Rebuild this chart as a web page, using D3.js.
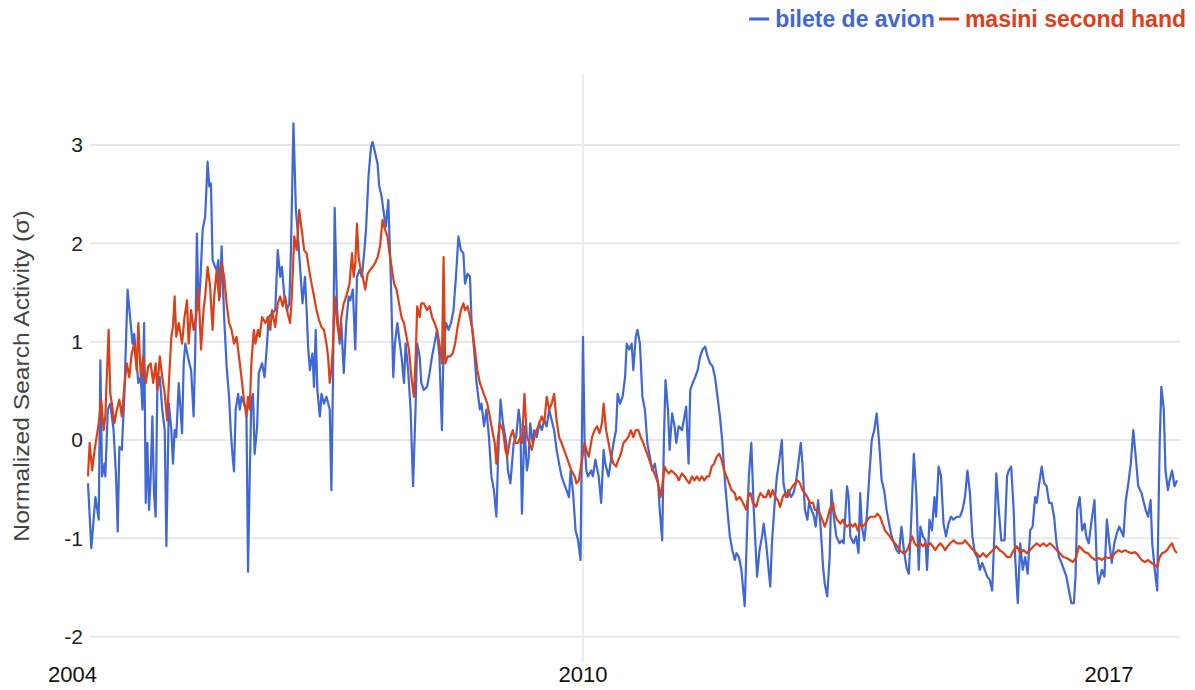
<!DOCTYPE html>
<html><head><meta charset="utf-8">
<script src="https://cdn.jsdelivr.net/npm/d3@7"></script>
<style>
body{margin:0;background:#fff;}
svg{display:block;font-family:Arial,"Liberation Sans",sans-serif;}
</style>
</head><body>
<svg id="c" width="1195" height="690"></svg>
<script>
const seriesNames = ["bilete de avion", "masini second hand"];
const seriesColors = ["#3f67d6", "#dc4019"];
const yTicks = [-2, -1, 0, 1, 2, 3];
const xTickLabels = ["2004", "2010", "2017"];
const xTickYears = [2004, 2010, 2017];
const yTitle = "Normalized Search Activity (σ)";

// [decimal year, normalized value]
const bileteDeAvion = [
[2004.00,-0.44],[2004.04,-1.10],[2004.09,-0.58],[2004.13,-0.81],[2004.15,0.81],[2004.17,-0.37],[2004.20,-0.24],[2004.21,-0.37],[2004.24,0.31],[2004.27,0.37],[2004.31,0.10],[2004.34,-0.37],[2004.36,-0.93],[2004.38,-0.07],[2004.41,-0.10],[2004.44,0.44],[2004.48,1.53],[2004.51,1.25],[2004.54,0.98],[2004.56,1.08],[2004.59,0.78],[2004.61,0.58],[2004.64,0.64],[2004.66,0.31],[2004.68,1.19],[2004.70,-0.64],[2004.72,-0.03],[2004.74,-0.71],[2004.76,-0.37],[2004.78,0.24],[2004.80,-0.54],[2004.82,-0.78],[2004.84,0.51],[2004.87,0.64],[2004.90,0.31],[2004.93,0.10],[2004.95,-1.08],[2004.98,0.37],
[2005.01,0.10],[2005.03,-0.24],[2005.05,0.10],[2005.07,0.03],[2005.10,0.58],[2005.14,0.07],[2005.16,0.78],[2005.18,0.98],[2005.22,0.81],[2005.25,0.71],[2005.28,0.24],[2005.30,0.92],[2005.32,2.10],[2005.34,1.32],[2005.36,1.59],[2005.39,2.14],[2005.42,2.27],[2005.45,2.83],[2005.47,2.58],[2005.49,2.61],[2005.51,1.83],[2005.54,1.76],[2005.56,1.73],[2005.58,1.83],[2005.60,1.46],[2005.62,1.97],[2005.65,1.25],[2005.68,0.75],[2005.71,0.44],[2005.73,0.10],[2005.75,-0.14],[2005.77,-0.32],[2005.79,0.31],[2005.82,0.47],[2005.84,0.31],[2005.86,0.44],[2005.89,0.37],[2005.92,0.31],[2005.94,-1.34],[2005.96,-0.37],[2005.98,0.41],
[2006.00,0.47],[2006.02,-0.14],[2006.05,0.14],[2006.07,0.68],[2006.11,0.78],[2006.14,0.64],[2006.17,0.98],[2006.19,1.25],[2006.23,1.29],[2006.27,1.32],[2006.30,1.93],[2006.33,1.66],[2006.35,1.76],[2006.38,1.46],[2006.41,1.32],[2006.44,1.39],[2006.46,1.93],[2006.49,3.22],[2006.52,2.34],[2006.54,2.14],[2006.57,1.76],[2006.60,1.39],[2006.63,1.66],[2006.65,1.32],[2006.67,0.92],[2006.69,0.71],[2006.72,0.88],[2006.74,0.54],[2006.76,1.12],[2006.78,0.51],[2006.81,0.24],[2006.83,0.47],[2006.86,0.37],[2006.89,0.44],[2006.93,0.31],[2006.95,-0.51],[2006.97,0.64],[2006.99,2.36],
[2007.02,1.32],[2007.05,0.98],[2007.07,1.19],[2007.10,0.68],[2007.13,1.19],[2007.16,1.46],[2007.18,1.42],[2007.21,1.53],[2007.24,0.92],[2007.26,1.66],[2007.29,1.73],[2007.32,1.66],[2007.35,1.93],[2007.37,2.14],[2007.40,2.68],[2007.43,2.98],[2007.45,3.03],[2007.48,2.92],[2007.51,2.81],[2007.53,2.58],[2007.56,2.47],[2007.58,2.34],[2007.61,2.17],[2007.64,2.44],[2007.67,1.66],[2007.70,0.64],[2007.72,0.98],[2007.75,1.19],[2007.77,1.05],[2007.80,0.85],[2007.83,0.58],[2007.85,0.98],[2007.88,0.71],[2007.91,0.31],[2007.94,-0.47],[2007.97,0.31],[2007.99,0.98],
[2008.02,0.85],[2008.04,0.58],[2008.07,0.51],[2008.11,0.54],[2008.14,0.68],[2008.17,0.85],[2008.20,0.98],[2008.23,1.12],[2008.26,0.85],[2008.29,0.10],[2008.31,0.98],[2008.34,1.19],[2008.37,1.12],[2008.40,1.19],[2008.43,1.32],[2008.46,1.66],[2008.49,2.07],[2008.52,1.93],[2008.55,1.90],[2008.57,1.59],[2008.60,1.69],[2008.63,1.66],[2008.65,1.19],[2008.68,0.92],[2008.71,0.58],[2008.75,0.31],[2008.77,0.37],[2008.80,0.14],[2008.83,0.31],[2008.86,0.03],[2008.89,-0.37],[2008.92,-0.51],[2008.95,-0.78],[2008.97,-0.20],
[2009.00,0.41],[2009.03,0.17],[2009.07,-0.03],[2009.09,-0.31],[2009.12,-0.44],[2009.16,-0.03],[2009.19,0.03],[2009.22,0.31],[2009.24,0.17],[2009.26,-0.75],[2009.29,0.14],[2009.32,-0.31],[2009.34,-0.20],[2009.36,0.17],[2009.39,-0.03],[2009.41,0.10],[2009.44,0.03],[2009.47,0.17],[2009.50,0.10],[2009.53,0.20],[2009.56,0.14],[2009.59,0.31],[2009.62,0.20],[2009.65,0.10],[2009.68,-0.10],[2009.71,-0.24],[2009.74,-0.37],[2009.77,-0.44],[2009.80,-0.51],[2009.83,-0.58],[2009.85,-0.31],[2009.88,-0.54],[2009.91,-0.92],[2009.94,-1.02],[2009.97,-1.22],
[2010.00,1.05],[2010.02,-0.03],[2010.04,-0.31],[2010.06,-0.37],[2010.10,-0.31],[2010.12,-0.37],[2010.15,-0.20],[2010.19,-0.37],[2010.22,-0.64],[2010.25,-0.10],[2010.27,-0.24],[2010.31,-0.37],[2010.34,-0.20],[2010.37,-0.03],[2010.40,0.10],[2010.42,0.47],[2010.45,0.37],[2010.48,0.44],[2010.51,0.64],[2010.53,0.98],[2010.56,0.92],[2010.59,0.98],[2010.61,0.71],[2010.64,1.05],[2010.66,1.12],[2010.69,0.98],[2010.72,0.44],[2010.75,0.31],[2010.78,-0.03],[2010.81,-0.17],[2010.84,-0.31],[2010.87,-0.24],[2010.91,-0.44],[2010.93,-0.71],[2010.96,-1.02],[2010.98,-0.03],
[2011.00,0.61],[2011.03,0.31],[2011.05,-0.10],[2011.08,0.27],[2011.11,0.14],[2011.13,-0.03],[2011.16,0.14],[2011.20,0.10],[2011.23,0.24],[2011.25,0.34],[2011.28,-0.24],[2011.30,0.51],[2011.33,0.58],[2011.36,0.64],[2011.39,0.71],[2011.42,0.85],[2011.45,0.92],[2011.48,0.95],[2011.51,0.85],[2011.54,0.78],[2011.57,0.75],[2011.60,0.64],[2011.63,0.44],[2011.66,0.24],[2011.69,-0.03],[2011.72,-0.41],[2011.75,-0.71],[2011.78,-0.98],[2011.81,-1.12],[2011.84,-1.22],[2011.86,-1.15],[2011.89,-1.19],[2011.92,-1.32],[2011.96,-1.69],[2011.99,-0.88],
[2012.01,-0.37],[2012.04,-0.03],[2012.07,-0.71],[2012.11,-1.39],[2012.14,-1.12],[2012.17,-0.98],[2012.19,-0.85],[2012.22,-1.05],[2012.25,-1.32],[2012.27,-1.49],[2012.29,-1.05],[2012.32,-0.68],[2012.35,-0.37],[2012.38,-0.20],[2012.41,0.00],[2012.43,-0.44],[2012.46,-0.58],[2012.49,-0.51],[2012.52,-0.58],[2012.55,-0.54],[2012.58,-0.44],[2012.61,-0.24],[2012.64,-0.03],[2012.66,-0.24],[2012.69,-0.71],[2012.72,-0.81],[2012.74,-0.64],[2012.77,-0.71],[2012.80,-0.78],[2012.82,-0.88],[2012.85,-0.61],[2012.88,-0.88],[2012.91,-1.29],[2012.93,-1.46],[2012.96,-1.59],[2012.99,-1.19],
[2013.01,-0.51],[2013.04,-0.78],[2013.07,-0.98],[2013.11,-1.05],[2013.14,-1.02],[2013.16,-1.05],[2013.20,-0.47],[2013.22,-0.58],[2013.24,-0.98],[2013.28,-1.05],[2013.31,-0.98],[2013.34,-1.15],[2013.36,-0.54],[2013.38,-0.88],[2013.41,-1.02],[2013.44,-0.78],[2013.47,-0.37],[2013.50,0.00],[2013.53,0.10],[2013.56,0.27],[2013.59,-0.03],[2013.62,-0.41],[2013.65,-0.51],[2013.68,-0.71],[2013.71,-0.85],[2013.74,-0.98],[2013.77,-1.05],[2013.80,-1.12],[2013.83,-1.15],[2013.86,-0.88],[2013.89,-1.12],[2013.92,-1.29],[2013.95,-1.36],[2013.98,-0.78],
[2014.01,-0.14],[2014.04,-0.54],[2014.07,-1.32],[2014.09,-0.88],[2014.12,-0.98],[2014.15,-1.02],[2014.17,-1.32],[2014.20,-0.81],[2014.23,-0.92],[2014.26,-0.58],[2014.28,-0.78],[2014.31,-0.27],[2014.34,-0.37],[2014.37,-0.85],[2014.40,-0.98],[2014.43,-0.85],[2014.46,-0.78],[2014.49,-0.81],[2014.53,-0.78],[2014.57,-0.78],[2014.60,-0.71],[2014.63,-0.58],[2014.66,-0.31],[2014.69,-0.54],[2014.72,-0.98],[2014.75,-1.15],[2014.78,-1.19],[2014.81,-1.32],[2014.84,-1.25],[2014.87,-1.32],[2014.90,-1.39],[2014.93,-1.42],[2014.96,-1.53],[2014.99,-0.88],
[2015.01,-0.34],[2015.04,-0.71],[2015.07,-1.02],[2015.11,-1.02],[2015.14,-0.37],[2015.16,-0.31],[2015.19,-0.27],[2015.22,-0.71],[2015.24,-1.22],[2015.27,-1.66],[2015.30,-1.05],[2015.33,-1.32],[2015.36,-1.19],[2015.39,-1.36],[2015.42,-0.92],[2015.45,-0.88],[2015.48,-0.58],[2015.50,-0.64],[2015.53,-0.44],[2015.56,-0.27],[2015.59,-0.44],[2015.62,-0.47],[2015.65,-0.64],[2015.68,-0.64],[2015.71,-0.78],[2015.74,-1.05],[2015.77,-1.19],[2015.80,-1.25],[2015.83,-1.32],[2015.86,-1.39],[2015.89,-1.53],[2015.92,-1.66],[2015.95,-1.66],[2015.97,-1.39],[2015.99,-0.71],
[2016.02,-0.58],[2016.05,-0.92],[2016.08,-0.85],[2016.10,-0.98],[2016.13,-1.05],[2016.16,-0.85],[2016.20,-0.61],[2016.23,-1.32],[2016.25,-1.46],[2016.29,-1.32],[2016.32,-1.39],[2016.35,-0.81],[2016.38,-1.05],[2016.41,-1.25],[2016.44,-1.05],[2016.47,-0.95],[2016.50,-0.88],[2016.52,-0.92],[2016.55,-0.98],[2016.58,-0.61],[2016.61,-0.44],[2016.64,-0.24],[2016.67,0.10],[2016.70,-0.17],[2016.73,-0.47],[2016.77,-0.54],[2016.79,-0.61],[2016.82,-0.71],[2016.85,-0.78],[2016.88,-0.61],[2016.90,-1.05],[2016.93,-1.32],[2016.96,-1.53],[2016.99,-0.03],
[2017.01,0.54],[2017.04,0.31],[2017.06,-0.31],[2017.09,-0.51],[2017.11,-0.41],[2017.14,-0.31],[2017.17,-0.47],[2017.20,-0.41]
];

const masiniSecondHand = [
[2004.00,-0.37],[2004.02,-0.03],[2004.05,-0.31],[2004.08,-0.10],[2004.13,0.17],[2004.16,0.41],[2004.19,0.10],[2004.21,0.24],[2004.25,1.12],[2004.27,0.47],[2004.29,0.37],[2004.32,0.17],[2004.35,0.31],[2004.38,0.41],[2004.41,0.24],[2004.44,0.54],[2004.47,0.78],[2004.50,0.64],[2004.53,0.88],[2004.56,0.98],[2004.59,0.71],[2004.61,1.19],[2004.64,0.64],[2004.67,0.85],[2004.70,0.58],[2004.73,0.75],[2004.76,0.78],[2004.79,0.58],[2004.82,0.78],[2004.84,0.51],[2004.87,0.85],[2004.90,0.64],[2004.93,0.47],[2004.96,0.20],[2004.98,0.58],
[2005.01,1.05],[2005.03,1.15],[2005.05,1.46],[2005.07,1.05],[2005.10,1.19],[2005.14,0.98],[2005.17,1.25],[2005.20,1.42],[2005.22,0.98],[2005.25,1.32],[2005.28,1.12],[2005.31,1.25],[2005.34,1.53],[2005.37,0.92],[2005.40,1.32],[2005.42,1.46],[2005.45,1.76],[2005.48,1.56],[2005.51,1.12],[2005.53,1.46],[2005.56,1.73],[2005.59,1.42],[2005.62,1.80],[2005.65,1.66],[2005.68,1.39],[2005.71,1.19],[2005.74,1.12],[2005.77,0.98],[2005.80,1.05],[2005.83,0.85],[2005.86,0.64],[2005.89,0.41],[2005.92,0.24],[2005.94,0.44],[2005.96,0.31],[2005.98,0.78],
[2006.01,1.12],[2006.03,0.98],[2006.06,1.12],[2006.08,1.05],[2006.11,1.25],[2006.15,1.19],[2006.18,1.25],[2006.21,1.12],[2006.23,1.32],[2006.27,1.15],[2006.30,1.39],[2006.33,1.46],[2006.36,1.36],[2006.39,1.46],[2006.42,1.29],[2006.45,1.19],[2006.47,1.46],[2006.50,2.07],[2006.53,1.93],[2006.56,2.34],[2006.59,2.14],[2006.62,1.93],[2006.65,1.90],[2006.68,1.73],[2006.71,1.59],[2006.74,1.46],[2006.77,1.32],[2006.80,1.22],[2006.83,1.15],[2006.86,1.12],[2006.89,0.98],[2006.91,0.85],[2006.93,0.58],[2006.95,0.71],[2006.97,0.98],[2006.99,1.46],
[2007.02,1.19],[2007.05,1.02],[2007.07,1.25],[2007.10,1.39],[2007.13,1.46],[2007.17,1.59],[2007.20,1.90],[2007.22,1.66],[2007.24,1.80],[2007.26,2.20],[2007.28,1.86],[2007.30,1.76],[2007.33,1.66],[2007.36,1.53],[2007.39,1.69],[2007.42,1.73],[2007.45,1.76],[2007.48,1.80],[2007.51,1.86],[2007.54,1.97],[2007.57,2.24],[2007.60,2.14],[2007.63,2.07],[2007.65,1.93],[2007.68,1.76],[2007.71,1.59],[2007.74,1.53],[2007.77,1.39],[2007.80,1.25],[2007.83,1.19],[2007.86,1.05],[2007.89,0.92],[2007.92,0.64],[2007.95,0.44],[2007.975,0.92],[2007.99,1.36],
[2008.02,1.25],[2008.04,1.39],[2008.07,1.39],[2008.11,1.32],[2008.14,1.36],[2008.17,1.25],[2008.20,1.19],[2008.23,1.12],[2008.26,0.98],[2008.29,0.78],[2008.31,1.86],[2008.33,0.78],[2008.36,0.85],[2008.39,0.85],[2008.42,0.88],[2008.45,0.98],[2008.48,1.15],[2008.52,1.32],[2008.55,1.39],[2008.57,1.32],[2008.60,1.36],[2008.63,1.25],[2008.66,1.12],[2008.69,0.92],[2008.72,0.71],[2008.75,0.58],[2008.78,0.51],[2008.81,0.44],[2008.84,0.37],[2008.87,0.24],[2008.90,0.10],[2008.93,-0.03],[2008.95,-0.24],[2008.97,0.03],[2008.99,0.17],
[2009.03,0.10],[2009.06,-0.10],[2009.08,-0.17],[2009.12,0.03],[2009.15,0.10],[2009.18,-0.03],[2009.21,-0.03],[2009.24,0.03],[2009.26,-0.03],[2009.29,0.47],[2009.32,0.03],[2009.35,-0.03],[2009.38,-0.10],[2009.41,0.03],[2009.44,0.10],[2009.47,0.17],[2009.50,0.24],[2009.53,0.17],[2009.56,0.44],[2009.59,0.31],[2009.62,0.37],[2009.65,0.47],[2009.68,0.20],[2009.71,0.03],[2009.74,-0.03],[2009.77,-0.10],[2009.80,-0.17],[2009.83,-0.24],[2009.86,-0.31],[2009.90,-0.37],[2009.92,-0.44],[2009.95,-0.41],[2009.98,-0.24],
[2010.02,-0.03],[2010.04,-0.10],[2010.07,-0.17],[2010.11,0.03],[2010.14,0.10],[2010.17,0.14],[2010.20,0.07],[2010.23,0.17],[2010.25,0.37],[2010.28,0.10],[2010.31,-0.03],[2010.34,-0.17],[2010.37,-0.24],[2010.40,-0.27],[2010.43,-0.20],[2010.46,-0.14],[2010.49,-0.03],[2010.52,0.00],[2010.55,0.03],[2010.58,0.10],[2010.61,0.03],[2010.64,0.10],[2010.67,0.10],[2010.70,0.03],[2010.73,-0.03],[2010.76,-0.10],[2010.79,-0.17],[2010.82,-0.24],[2010.85,-0.31],[2010.88,-0.37],[2010.91,-0.44],[2010.94,-0.58],[2010.96,-0.47],[2010.99,-0.27],
[2011.01,-0.31],[2011.04,-0.34],[2011.07,-0.31],[2011.11,-0.34],[2011.14,-0.37],[2011.16,-0.41],[2011.20,-0.34],[2011.23,-0.37],[2011.26,-0.41],[2011.29,-0.44],[2011.32,-0.37],[2011.35,-0.41],[2011.38,-0.37],[2011.41,-0.41],[2011.44,-0.37],[2011.47,-0.41],[2011.50,-0.37],[2011.53,-0.37],[2011.56,-0.27],[2011.59,-0.24],[2011.62,-0.17],[2011.65,-0.14],[2011.68,-0.20],[2011.71,-0.31],[2011.74,-0.37],[2011.77,-0.44],[2011.80,-0.51],[2011.84,-0.54],[2011.86,-0.61],[2011.90,-0.58],[2011.94,-0.64],[2011.98,-0.71],
[2012.00,-0.58],[2012.03,-0.54],[2012.06,-0.64],[2012.10,-0.68],[2012.13,-0.58],[2012.15,-0.54],[2012.19,-0.58],[2012.22,-0.58],[2012.25,-0.51],[2012.27,-0.58],[2012.30,-0.51],[2012.33,-0.58],[2012.36,-0.61],[2012.39,-0.68],[2012.42,-0.58],[2012.45,-0.54],[2012.48,-0.58],[2012.51,-0.51],[2012.54,-0.47],[2012.57,-0.44],[2012.60,-0.41],[2012.63,-0.44],[2012.66,-0.51],[2012.69,-0.54],[2012.72,-0.58],[2012.75,-0.64],[2012.79,-0.64],[2012.81,-0.71],[2012.84,-0.71],[2012.87,-0.75],[2012.90,-0.81],[2012.93,-0.88],[2012.96,-0.81],[2012.99,-0.71],
[2013.03,-0.64],[2013.05,-0.75],[2013.08,-0.81],[2013.12,-0.85],[2013.15,-0.81],[2013.17,-0.85],[2013.20,-0.88],[2013.24,-0.85],[2013.27,-0.88],[2013.30,-0.85],[2013.33,-0.92],[2013.36,-0.85],[2013.39,-0.88],[2013.42,-0.85],[2013.45,-0.81],[2013.48,-0.78],[2013.51,-0.78],[2013.54,-0.78],[2013.57,-0.75],[2013.60,-0.78],[2013.63,-0.85],[2013.66,-0.92],[2013.69,-0.95],[2013.72,-0.98],[2013.75,-1.02],[2013.78,-1.05],[2013.81,-1.08],[2013.84,-1.12],[2013.88,-1.15],[2013.90,-1.15],[2013.93,-1.12],[2013.96,-1.05],[2013.99,-0.98],
[2014.02,-1.05],[2014.05,-1.08],[2014.09,-1.05],[2014.12,-1.08],[2014.15,-1.05],[2014.17,-1.08],[2014.21,-1.05],[2014.24,-1.08],[2014.27,-1.12],[2014.30,-1.08],[2014.33,-1.05],[2014.36,-1.08],[2014.39,-1.12],[2014.42,-1.08],[2014.45,-1.05],[2014.49,-1.02],[2014.53,-1.05],[2014.57,-1.05],[2014.60,-1.05],[2014.63,-1.02],[2014.66,-1.05],[2014.69,-1.08],[2014.73,-1.12],[2014.77,-1.15],[2014.81,-1.19],[2014.85,-1.15],[2014.89,-1.19],[2014.93,-1.15],[2014.97,-1.12],
[2015.01,-1.08],[2015.05,-1.12],[2015.10,-1.15],[2015.14,-1.19],[2015.18,-1.19],[2015.22,-1.12],[2015.26,-1.08],[2015.30,-1.15],[2015.34,-1.12],[2015.38,-1.15],[2015.42,-1.12],[2015.46,-1.08],[2015.50,-1.05],[2015.54,-1.08],[2015.58,-1.05],[2015.62,-1.08],[2015.66,-1.05],[2015.70,-1.08],[2015.74,-1.12],[2015.78,-1.15],[2015.82,-1.19],[2015.86,-1.20],[2015.90,-1.22],[2015.94,-1.24],[2015.98,-1.19],
[2016.01,-1.08],[2016.04,-1.10],[2016.08,-1.14],[2016.12,-1.15],[2016.16,-1.19],[2016.21,-1.22],[2016.25,-1.20],[2016.29,-1.22],[2016.33,-1.19],[2016.37,-1.20],[2016.41,-1.19],[2016.45,-1.15],[2016.49,-1.12],[2016.53,-1.14],[2016.57,-1.12],[2016.61,-1.14],[2016.65,-1.15],[2016.69,-1.14],[2016.73,-1.17],[2016.77,-1.22],[2016.81,-1.24],[2016.85,-1.22],[2016.89,-1.25],[2016.93,-1.27],[2016.96,-1.29],[2016.99,-1.19],
[2017.02,-1.15],[2017.05,-1.14],[2017.08,-1.12],[2017.11,-1.08],[2017.14,-1.05],[2017.17,-1.12],[2017.20,-1.15]
];

const series = [bileteDeAvion, masiniSecondHand];

const svg = d3.select("#c");
svg.append("rect").attr("width", 1195).attr("height", 690).attr("fill", "#fff");

const x = d3.scaleLinear().domain([2004, 2017.2]).range([88, 1177]);
const y = d3.scaleLinear().domain([-2, 3]).range([636.7, 145]);

// horizontal gridlines
svg.append("g").selectAll("line").data(yTicks).join("line")
  .attr("x1", 90).attr("x2", 1180)
  .attr("y1", d => y(d)).attr("y2", d => y(d))
  .attr("stroke", "#e7e7e7").attr("stroke-width", 2);

// vertical gridline at the middle label year
svg.append("line")
  .attr("x1", x(xTickYears[1])).attr("x2", x(xTickYears[1]))
  .attr("y1", 75).attr("y2", 662)
  .attr("stroke", "#ececec").attr("stroke-width", 2);

// y axis labels (plain hyphen minus, as in the reference)
const yAxis = d3.axisLeft(y).tickValues(yTicks).tickSize(0).tickPadding(0).tickFormat(d => String(d));
const ya = svg.append("g").attr("transform", "translate(83,0)").call(yAxis);
ya.select(".domain").remove();
ya.selectAll("text").attr("font-size", 21).attr("fill", "#222").attr("font-family", "Arial, 'Liberation Sans', sans-serif");

// x axis labels
const anchors = ["start", "middle", "end"];
const offsets = [-40, 0, -27];
svg.append("g").selectAll("text").data(xTickLabels).join("text")
  .attr("x", (d, i) => x(xTickYears[i]) + offsets[i])
  .attr("y", 682)
  .attr("text-anchor", (d, i) => anchors[i])
  .attr("font-size", 22).attr("fill", "#111")
  .text(d => d);

// y title
svg.append("text")
  .attr("transform", "translate(29,376) rotate(-90) scale(1.12,1)")
  .attr("text-anchor", "middle")
  .attr("font-size", 22).attr("fill", "#444")
  .text(yTitle);

// lines
const line = d3.line().x(d => x(d[0])).y(d => y(d[1]));
svg.append("g").selectAll("path").data(series).join("path")
  .attr("d", d => line(d))
  .attr("fill", "none")
  .attr("stroke", (d, i) => seriesColors[i])
  .attr("stroke-width", 2.2)
  .attr("stroke-linejoin", "round");

// legend (right aligned)
const lg = svg.append("g");
let cursor = 1186;
for (let i = seriesNames.length - 1; i >= 0; i--) {
  const t = lg.append("text").attr("y", 27).attr("font-size", 23).attr("font-weight", "bold")
    .attr("fill", seriesColors[i]).attr("text-anchor", "end").attr("x", cursor).text(seriesNames[i]);
  const w = t.node().getComputedTextLength();
  const lx2 = cursor - w - 6;
  lg.append("line").attr("x1", lx2 - 20).attr("x2", lx2).attr("y1", 19).attr("y2", 19)
    .attr("stroke", seriesColors[i]).attr("stroke-width", 3);
  cursor = lx2 - 20 - 4;
}
</script>
</body></html>
